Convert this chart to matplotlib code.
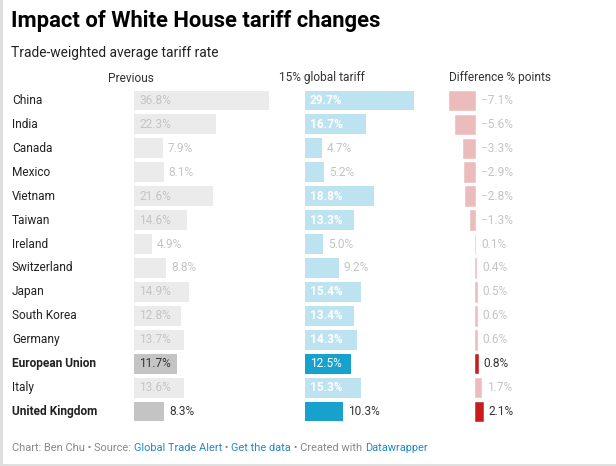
import matplotlib.pyplot as plt
from matplotlib.lines import Line2D

plt.rcParams['font.family'] = ['Roboto', 'DejaVu Sans']

# Data
countries = ["China", "India", "Canada", "Mexico", "Vietnam", "Taiwan", "Ireland",
             "Switzerland", "Japan", "South Korea", "Germany", "European Union",
             "Italy", "United Kingdom"]
previous = [36.8, 22.3, 7.9, 8.1, 21.6, 14.6, 4.9, 8.8, 14.9, 12.8, 13.7, 11.7, 13.6, 8.3]
global_tariff = [29.7, 16.7, 4.7, 5.2, 18.8, 13.3, 5.0, 9.2, 15.4, 13.4, 14.3, 12.5, 15.3, 10.3]
difference = [-7.1, -5.6, -3.3, -2.9, -2.8, -1.3, 0.1, 0.4, 0.5, 0.6, 0.6, 0.8, 1.7, 2.1]
highlight = ["European Union", "United Kingdom"]
headers = ["Previous", "15% global tariff", "Difference % points"]

W, H = 616, 466
fig = plt.figure(figsize=(W / 100, H / 100), dpi=100)
fig.patch.set_facecolor('white')

px_per_pct = 3.66
top_px, bot_px = 88.5, 423.5
fs = 8.6


def make_ax(left_px, width_px, x0):
    ax = fig.add_axes([left_px / W, 1 - bot_px / H, width_px / W, (bot_px - top_px) / H])
    ax.set_xlim(x0, x0 + width_px / px_per_pct)
    ax.set_ylim(len(countries) - 0.5, -0.5)
    ax.axis('off')
    return ax


ax1 = make_ax(134, 150, 0)
ax2 = make_ax(305, 140, 0)
ax3 = make_ax(440, 150, -35 / px_per_pct)

light_txt = '#c4c4c4'
dark_txt = '#333333'
row_h = (bot_px - top_px) / len(countries)

for i, c in enumerate(countries):
    hl = c in highlight
    # row label
    fig.text(12 / W, 1 - (top_px + (i + 0.5) * row_h) / H, c, fontsize=fs, va='center',
             ha='left', color='#222222', fontweight='bold' if hl else 'normal')

    # previous
    p = previous[i]
    ax1.barh(i, p, height=0.83, color='#c4c4c4' if hl else '#ebebeb')
    x_lab = 0 if p >= 10 else p
    ax1.annotate(f"{p:.1f}%", (x_lab, i), xytext=(3.6, 0), textcoords='offset points',
                 va='center', ha='left', fontsize=fs, color=dark_txt if hl else light_txt)

    # 15% global tariff
    g = global_tariff[i]
    ax2.barh(i, g, height=0.83, color='#18a1cd' if hl else '#bde3f0')
    if g >= 10.5:
        ax2.annotate(f"{g:.1f}%", (0, i), xytext=(3.6, 0), textcoords='offset points',
                     va='center', ha='left', fontsize=fs, color='white',
                     fontweight='normal' if hl else 'bold')
    else:
        ax2.annotate(f"{g:.1f}%", (g, i), xytext=(3.6, 0), textcoords='offset points',
                     va='center', ha='left', fontsize=fs, color=dark_txt if hl else light_txt)

    # difference (thin edge so tiny values stay visible)
    d = difference[i]
    col = '#c71e1d' if hl else '#ecbcbc'
    ax3.barh(i, d, height=0.82, color=col, edgecolor=col, linewidth=0.4)
    lab = f"{d:.1f}%".replace('-', '\u2212')
    ax3.annotate(lab, (max(d, 0), i), xytext=(4, 0), textcoords='offset points',
                 va='center', ha='left', fontsize=fs, color=dark_txt if hl else light_txt)

# column headers
for xc, t in zip([131, 322, 500], headers):
    fig.text(xc / W, 1 - 78 / H, t, fontsize=fs, ha='center', va='center', color='#333333')

# title and subtitle
fig.text(11 / W, 1 - 27.5 / H, "Impact of White House tariff changes", fontsize=15.85,
         fontweight='bold', ha='left', va='baseline', color='#000000')
fig.text(11 / W, 1 - 57 / H, "Trade-weighted average tariff rate", fontsize=9.9,
         ha='left', va='baseline', color='#222222')

# footer, pieces chained one after the other
pieces = [("Chart: Ben Chu \u2022 Source: ", '#888888'), ("Global Trade Alert", '#2189c9'),
          (" \u2022 ", '#888888'), ("Get the data", '#2189c9'),
          (" \u2022 Created with ", '#888888'), ("Datawrapper", '#2189c9')]
prev = fig.text(12 / W, 1 - 448 / H, pieces[0][0], fontsize=7.9, color=pieces[0][1],
                ha='left', va='center')
for txt, col in pieces[1:]:
    prev = fig.add_artist(plt.Annotation(txt, xy=(1, 0.5), xycoords=prev, va='center',
                                         ha='left', fontsize=7.9, color=col))

# light border left and bottom
fig.add_artist(Line2D([1 / W, 1 / W], [0, 1], color='#dddddd', lw=2))
fig.add_artist(Line2D([0, 1], [1.5 / H, 1.5 / H], color='#dddddd', lw=2))

fig.savefig("out.png", dpi=100)
